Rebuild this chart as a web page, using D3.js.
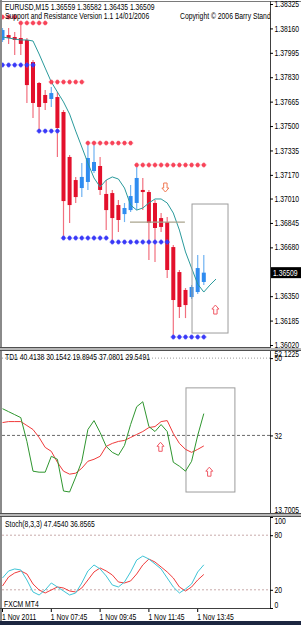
<!DOCTYPE html>
<html>
<head>
<meta charset="utf-8">
<script src="https://cdn.jsdelivr.net/npm/d3@7"></script>
<style>
body { margin: 0; background: #fff; }
svg { display: block; }
text { font-family: "Liberation Sans", Arial, sans-serif; font-size: 8.2px; fill: #000; }
</style>
</head>
<body>
<svg id="chart" width="301" height="625"></svg>
<script>
// EURUSD M15 candles
var opens  = [1.38082,1.38115,1.38102,1.38095,1.38082,1.37933,1.37791,1.37710,1.37683,1.37696,1.37595,1.37291,1.37135,1.37081,1.37122,1.37196,1.37230,1.37041,1.37047,1.36966,1.36905,1.36932,1.36980,1.37068,1.37054,1.36980,1.36878,1.36851,1.36682,1.36513,1.36392,1.36344,1.36378,1.36446];
var highs  = [1.38163,1.38163,1.38136,1.38183,1.38095,1.37946,1.37798,1.37744,1.37764,1.37730,1.37608,1.37304,1.37156,1.37250,1.37385,1.37385,1.37291,1.37135,1.37068,1.37000,1.36980,1.37101,1.37237,1.37149,1.37068,1.37000,1.36912,1.36885,1.36696,1.36527,1.36405,1.36425,1.36628,1.36628];
var lows   = [1.38068,1.38055,1.37980,1.37980,1.37656,1.37554,1.37473,1.37608,1.37629,1.37291,1.36750,1.36845,1.36980,1.37020,1.37068,1.37183,1.37034,1.36797,1.36709,1.36784,1.36851,1.36919,1.36932,1.36932,1.36594,1.36581,1.36784,1.36473,1.36074,1.36202,1.36202,1.36331,1.36365,1.36425];
var closes = [1.38149,1.38095,1.38082,1.38055,1.37777,1.37656,1.37629,1.37656,1.37723,1.37487,1.36993,1.36966,1.37020,1.37156,1.37284,1.37257,1.37068,1.36932,1.36878,1.36865,1.36946,1.37027,1.37149,1.37054,1.36845,1.36811,1.36818,1.36527,1.36324,1.36277,1.36290,1.36412,1.36540,1.36509];

// shifted moving average (runs two bars past the last candle)
var maVals = [1.38102,1.38095,1.38088,1.38082,1.38082,1.38075,1.37987,1.37892,1.37798,1.37730,1.37663,1.37581,1.37466,1.37358,1.37250,1.37149,1.37088,1.37135,1.37156,1.37142,1.37081,1.36966,1.36932,1.36946,1.36980,1.37007,1.37007,1.36980,1.36912,1.36797,1.36649,1.36540,1.36432,1.36378,1.36425,1.36466];

// support / resistance dot rows: level, first bar, last bar
var supLevel = [1.37913,1.37466,1.36743,1.36716,1.36074];
var supFrom  = [0,6,10,18,28];
var supTo    = [5,9,17,27,33];
var resLevel = [1.38237,1.38197,1.37798,1.37385,1.37237];
var resFrom  = [0,3,8,14,22];
var resTo    = [2,7,13,21,33];

// TD1 indicator
var tdGreen = [38.22,37.53,36.84,36.14,30.60,23.67,23.44,23.44,27.14,26.44,19.05,18.82,22.29,25.98,33.37,35.45,32.68,29.45,28.06,27.37,29.68,34.53,38.68,39.84,34.06,32.91,34.53,32.91,25.75,24.83,23.67,25.98,31.99,37.08];
var tdRed   = [34.99,35.22,35.22,35.22,34.30,33.37,31.52,29.21,28.29,25.75,23.67,22.98,23.21,24.36,25.98,26.44,27.14,29.45,30.14,30.60,30.83,31.52,32.22,32.91,33.83,34.06,35.22,35.45,32.45,30.14,28.75,28.06,28.75,29.55];

// Stoch(8,3,3)
var stMain   = [33.0,40.7,42.9,41.8,30.8,17.6,14.3,19.8,27.5,23.1,18.7,14.3,16.5,27.5,40.7,47.3,42.9,35.2,25.3,23.1,28.6,39.6,52.7,57.1,53.8,48.4,42.9,33.0,23.1,16.5,20.9,26.4,39.6,47.454];
var stSignal = [24.2,34.1,38.5,40.7,37.4,26.4,19.8,16.5,19.8,23.1,22.0,18.7,17.6,22.0,30.8,39.6,44.0,40.7,36.3,28.6,27.5,29.7,37.4,47.3,53.8,50.5,45.1,39.6,33.0,23.1,18.7,23.1,30.8,36.8565];

// signal arrows: bar, value, direction
var mainArrowBar = [26.7, 34.9];
var mainArrowVal = [1.37115, 1.36290];
var mainArrowDir = ["down", "up"];
var tdArrowBar = [25.9, 33.9];
var tdArrowVal = [30.4, 24.6];

// boxes and level line drawn by the trader
var mainBox = [31.07, 36.97, 1.36973, 1.36101];
var tdBox = [30.08, 38.1, 43.07, 18.82];
var hLineBars = [20.9, 29.9];
var hLineVal = 1.36851;

// axis labels
var mainTicks = ["1.38325","1.38160","1.37995","1.37830","1.37665","1.37500","1.37335","1.37170","1.37010","1.36845","1.36680","1.36350","1.36185","1.36020"];
var lastPrice = "1.36509";
var tdTicks = ["52.1225","50","32","13.7005"];
var stTicks = ["100","80","20","0"];
var timeBars = [0,8,16,24,32];
var timeLabels = ["1 Nov 2011","1 Nov 07:45","1 Nov 09:45","1 Nov 11:45","1 Nov 13:45"];

var svg = d3.select("#chart");
var axisX = 270;

var x = d3.scaleLinear().domain([0, 33]).range([2.5, 203.8]);
var yMain = d3.scaleLinear().domain([1.36020, 1.38325]).range([345, 4]);
var yTD = d3.scaleLinear().domain([13.7005, 52.1225]).range([514, 349]);
var ySt = d3.scaleLinear().domain([0, 100]).range([608, 517]);

// clip regions for each pane
var defs = svg.append("defs");
function clip(id, y0, y1) {
  defs.append("clipPath").attr("id", id).append("rect")
    .attr("x", 2).attr("y", y0).attr("width", axisX - 2).attr("height", y1 - y0);
}
clip("cMain", 2, 347);
clip("cTD", 350, 513);
clip("cSt", 517, 608);

// frame
svg.append("rect").attr("x", 0).attr("y", 0).attr("width", 301).attr("height", 625).attr("fill", "#fff");
svg.append("rect").attr("x", 0).attr("y", 0).attr("width", 2).attr("height", 622).attr("fill", "#8a8a8a");
svg.append("line").attr("x1", 0).attr("x2", 301).attr("y1", 1.5).attr("y2", 1.5).attr("stroke", "#7a7a7a");
svg.append("line").attr("x1", axisX + 0.5).attr("x2", axisX + 0.5).attr("y1", 1).attr("y2", 609).attr("stroke", "#404040");
svg.append("line").attr("x1", 0).attr("x2", axisX).attr("y1", 347.5).attr("y2", 347.5).attr("stroke", "#505050");
svg.append("rect").attr("x", 0).attr("y", 348).attr("width", 301).attr("height", 2).attr("fill", "#b8b8b8");
svg.append("line").attr("x1", 0).attr("x2", 301).attr("y1", 350.5).attr("y2", 350.5).attr("stroke", "#505050");
svg.append("line").attr("x1", 0).attr("x2", 301).attr("y1", 513.5).attr("y2", 513.5).attr("stroke", "#505050");
svg.append("rect").attr("x", 0).attr("y", 514).attr("width", 301).attr("height", 2).attr("fill", "#b8b8b8");
svg.append("line").attr("x1", 0).attr("x2", 301).attr("y1", 516.5).attr("y2", 516.5).attr("stroke", "#505050");
svg.append("line").attr("x1", 0).attr("x2", axisX + 1).attr("y1", 608.5).attr("y2", 608.5).attr("stroke", "#404040");
svg.append("rect").attr("x", 0).attr("y", 621).attr("width", 301).attr("height", 4).attr("fill", "#1c2640");

// ---------- main pane ----------
var gMain = svg.append("g").attr("clip-path", "url(#cMain)");

var bars = d3.range(opens.length);
gMain.selectAll(".wick").data(bars).enter().append("line")
  .attr("x1", function(i) { return x(i); })
  .attr("x2", function(i) { return x(i); })
  .attr("y1", function(i) { return yMain(highs[i]); })
  .attr("y2", function(i) { return yMain(lows[i]); })
  .attr("stroke", function(i) { return closes[i] >= opens[i] ? "#6fb2f2" : "#f2707f"; })
  .attr("stroke-width", 1.2);

gMain.selectAll(".body").data(bars).enter().append("rect")
  .attr("x", function(i) { return x(i) - 2; })
  .attr("width", 4)
  .attr("y", function(i) { return yMain(Math.max(opens[i], closes[i])); })
  .attr("height", function(i) { return Math.max(1.5, Math.abs(yMain(opens[i]) - yMain(closes[i]))); })
  .attr("fill", function(i) { return closes[i] >= opens[i] ? "#2f8cf0" : "#e3102c"; });

var maLine = d3.line()
  .x(function(d, i) { return x(i); })
  .y(function(d) { return yMain(d); });
gMain.append("path").attr("d", maLine(maVals))
  .attr("fill", "none").attr("stroke", "#2a9a9c").attr("stroke-width", 1);

function dotRow(levels, from, to, color, light) {
  levels.forEach(function(lv, k) {
    d3.range(from[k], to[k] + 1).forEach(function(i) {
      gMain.append("circle").attr("cx", x(i)).attr("cy", yMain(lv)).attr("r", 2)
        .attr("fill", color);
      gMain.append("path")
        .attr("d", d3.symbol().type(d3.symbolCross).size(16)())
        .attr("transform", "translate(" + x(i) + "," + yMain(lv) + ")")
        .attr("fill", light).attr("opacity", 0.55);
    });
  });
}
dotRow(resLevel, resFrom, resTo, "#f0102c", "#ff7080");
dotRow(supLevel, supFrom, supTo, "#1414f0", "#5a5aff");

gMain.append("line")
  .attr("x1", x(hLineBars[0])).attr("x2", x(hLineBars[1]))
  .attr("y1", yMain(hLineVal)).attr("y2", yMain(hLineVal))
  .attr("stroke", "#aaa48e").attr("stroke-width", 1.3);

gMain.append("rect")
  .attr("x", x(mainBox[0])).attr("width", x(mainBox[1]) - x(mainBox[0]))
  .attr("y", yMain(mainBox[2])).attr("height", yMain(mainBox[3]) - yMain(mainBox[2]))
  .attr("fill", "none").attr("stroke", "#9c9c9c");

// hollow arrow, tip at (0,0), pointing up
var upArrow = "M0,0 L3.5,4 L1.7,4 L1.7,9 L-1.7,9 L-1.7,4 L-3.5,4 Z";
function arrow(g, cx, cy, dir, color) {
  var t = dir === "up" ? "translate(" + cx + "," + cy + ")"
                       : "translate(" + cx + "," + (cy + 9) + ") scale(1,-1)";
  g.append("path").attr("d", upArrow).attr("transform", t)
    .attr("fill", "#fff").attr("stroke", color).attr("stroke-width", 1);
}
mainArrowBar.forEach(function(b, k) {
  arrow(gMain, x(b), yMain(mainArrowVal[k]), mainArrowDir[k], mainArrowDir[k] === "down" ? "#f07a55" : "#f05a66");
});

// titles
gMain.append("text").attr("x", 5).attr("y", 10).text("EURUSD,M15  1.36559 1.36582 1.36435 1.36509");
gMain.append("text").attr("x", 5).attr("y", 19).text("Support and Resistance  Version 1.1  14/01/2006");
gMain.append("text").attr("x", 180).attr("y", 19).text("Copyright \u00a9 2006 Barry Stander");

// ---------- TD1 pane ----------
var gTD = svg.append("g").attr("clip-path", "url(#cTD)");
gTD.append("line").attr("x1", 2).attr("x2", axisX).attr("y1", yTD(50)).attr("y2", yTD(50))
  .attr("stroke", "#9a9a9a").attr("stroke-dasharray", "1,2");
gTD.append("line").attr("x1", 2).attr("x2", axisX).attr("y1", yTD(32)).attr("y2", yTD(32))
  .attr("stroke", "#6a6a6a").attr("stroke-dasharray", "3,2");

gTD.append("rect")
  .attr("x", x(tdBox[0])).attr("width", x(tdBox[1]) - x(tdBox[0]))
  .attr("y", yTD(tdBox[2])).attr("height", yTD(tdBox[3]) - yTD(tdBox[2]))
  .attr("fill", "none").attr("stroke", "#9c9c9c");

var tdLine = d3.line().x(function(d, i) { return x(i); }).y(function(d) { return yTD(d); });
gTD.append("path").attr("d", tdLine(tdRed)).attr("fill", "none").attr("stroke", "#f03a3a").attr("stroke-width", 1);
gTD.append("path").attr("d", tdLine(tdGreen)).attr("fill", "none").attr("stroke", "#2f962f").attr("stroke-width", 1);

tdArrowBar.forEach(function(b, k) {
  arrow(gTD, x(b), yTD(tdArrowVal[k]), "up", "#f05a66");
});
gTD.append("text").attr("x", 5).attr("y", 360).text("TD1 40.4138 30.1542 19.8945 37.0801 29.5491");

// ---------- Stoch pane ----------
var gSt = svg.append("g").attr("clip-path", "url(#cSt)");
[80, 20].forEach(function(v) {
  gSt.append("line").attr("x1", 2).attr("x2", axisX).attr("y1", ySt(v)).attr("y2", ySt(v))
    .attr("stroke", "#c8aaaa").attr("stroke-dasharray", "2,2");
});
var stLine = d3.line().x(function(d, i) { return x(i); }).y(function(d) { return ySt(d); });
gSt.append("path").attr("d", stLine(stSignal)).attr("fill", "none").attr("stroke", "#f03c3c").attr("stroke-width", 1);
gSt.append("path").attr("d", stLine(stMain)).attr("fill", "none").attr("stroke", "#3ec4d6").attr("stroke-width", 1);
gSt.append("text").attr("x", 5).attr("y", 527).text("Stoch(8,3,3) 47.4540 36.8565");
gSt.append("text").attr("x", 4).attr("y", 607).text("FXCM MT4");

// ---------- axes ----------
function rightAxis(scale, labels) {
  var g = svg.append("g").attr("transform", "translate(" + axisX + ",0)")
    .call(d3.axisRight(scale)
      .tickValues(labels.map(Number))
      .tickFormat(function(d, i) { return labels[i]; })
      .tickSize(3).tickPadding(1.5));
  g.select(".domain").remove();
  return g;
}
rightAxis(yMain, mainTicks);
var gTdAx = rightAxis(yTD, tdTicks);
gTdAx.selectAll(".tick").filter(function(d) { return d > 52 || d < 14; }).select("line").remove();
gTdAx.selectAll(".tick").filter(function(d) { return d > 52; }).select("text").attr("dy", "0.9em");
gTdAx.selectAll(".tick").filter(function(d) { return d < 14; }).select("text").attr("dy", "-0.2em");
var gStAx = rightAxis(ySt, stTicks);
gStAx.selectAll(".tick").filter(function(d) { return d === 100; }).select("text").attr("dy", "0.8em");
gStAx.selectAll(".tick").filter(function(d) { return d === 0; }).select("text").attr("dy", "-0.1em");

// last price flag
var lp = yMain(+lastPrice);
svg.append("rect").attr("x", axisX + 1).attr("y", lp - 5.5).attr("width", 30).attr("height", 11).attr("fill", "#000");
svg.append("text").attr("x", axisX + 3).attr("y", lp + 3).style("fill", "#fff").text(lastPrice);

// time axis
var gTime = svg.append("g").attr("transform", "translate(0,609)");
timeBars.forEach(function(b, k) {
  gTime.append("line").attr("x1", x(b)).attr("x2", x(b)).attr("y1", 0).attr("y2", 3).attr("stroke", "#000");
  gTime.append("text").attr("x", x(b) - 0.5).attr("y", 11).text(timeLabels[k]);
});

// the terminal font is narrower than Liberation Sans, squeeze glyphs horizontally
svg.selectAll("text").each(function() {
  var t = d3.select(this);
  var tx = +t.attr("x") || 0;
  t.attr("transform", "translate(" + tx + ",0) scale(0.83,1) translate(" + (-tx) + ",0)");
});
</script>
</body>
</html>
